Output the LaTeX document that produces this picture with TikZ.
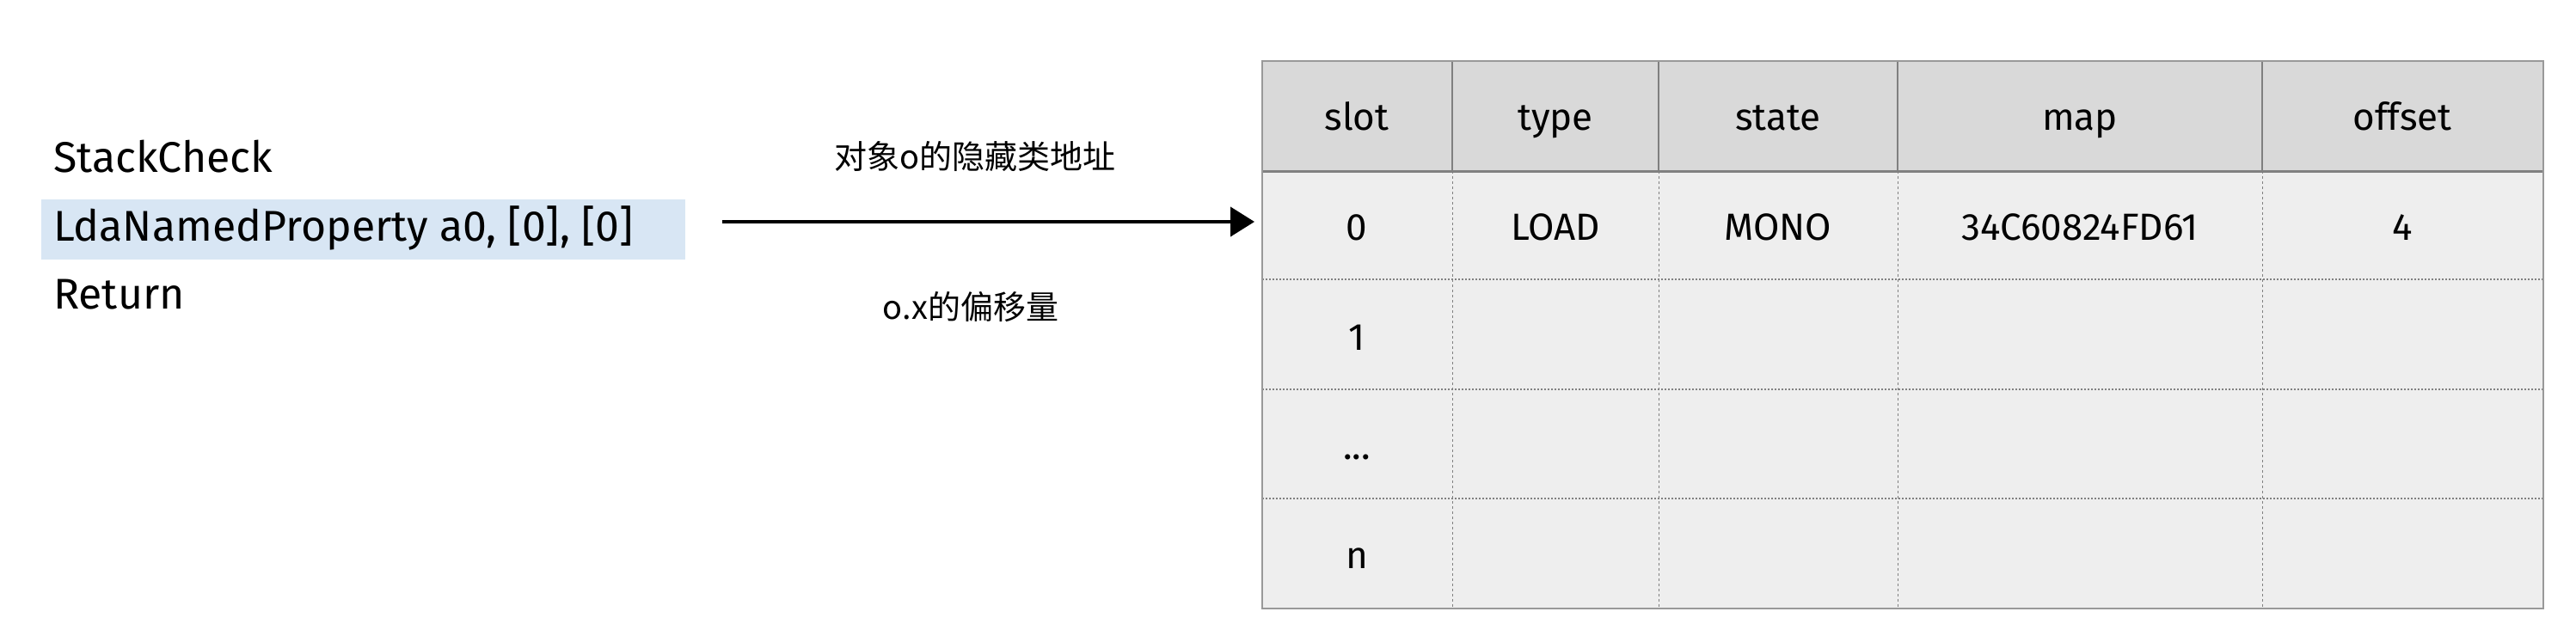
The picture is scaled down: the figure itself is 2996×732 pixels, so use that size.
\documentclass[tikz,border=0pt]{standalone}
\usepackage{fontspec}
\setmainfont{Fira Sans}
\newfontfamily\cjk{Noto Sans CJK SC}
\usetikzlibrary{arrows.meta}
\definecolor{hl}{HTML}{D8E6F4}
\begin{document}
\begin{tikzpicture}[x=1pt,y=-1pt,
  code/.style={anchor=west,font=\fontsize{50}{54}\selectfont,inner sep=0},
  cell/.style={font=\fontsize{44}{48}\selectfont,inner sep=0,text height=32pt,text depth=9pt},
  lbl/.style={font=\cjk\fontsize{38}{42}\selectfont,inner sep=0}]
\useasboundingbox (0,0) rectangle (2996,732);
% highlight
\fill[hl] (48,232) rectangle (797,302);
\node[code] (sc) at (62,182) {StackCheck};
\node[code] (lda) at (62,265) {LdaNamedProperty a0, [0], [0]};
\node[code] (ret) at (62,343) {Return};
% table
\fill[gray!30] (1468,71) rectangle (2958,199);
\fill[gray!13] (1468,199) rectangle (2958,708);
\foreach \y in {325,453,580} \draw[gray,dotted,line width=2pt] (1468,\y) -- (2958,\y);
\foreach \x in {1689,1929,2207,2631} {
  \draw[gray,line width=1.5pt] (\x,71) -- (\x,199);
  \draw[gray,dashed,line width=1pt] (\x,199) -- (\x,708);}
\draw[gray,line width=3pt] (1468,199) -- (2958,199);
\draw[gray!80,line width=2.5pt] (1468,71) rectangle (2958,708);
\coordinate (tin) at (1459,258);
\foreach \n/\x/\t in {a/1578/slot,b/1809/type,c/2068/state,d/2419/map,e/2794/offset}
  \node[cell] (h\n) at (\x,140) {\t};
\foreach \n/\x/\t in {a/1578/0,b/1809/LOAD,c/2068/MONO,d/2419/34C60824FD61,e/2794/4}
  \node[cell] (r\n) at (\x,268) {\t};
\node[cell] (s1) at (1578,396) {1};
\node[cell] (s2) at (1578,523) {...};
\node[cell] (s3) at (1578,650) {n};
% arrow
\coordinate (aa) at (840,258);
\draw[line width=4pt,-{Triangle[length=28pt,width=34pt]}] (aa) -- (tin);
\node[lbl] (l1) at (1134,182) {对象o的隐藏类地址};
\node[lbl] (l2) at (1129,357) {o.x的偏移量};
\end{tikzpicture}
\end{document}
